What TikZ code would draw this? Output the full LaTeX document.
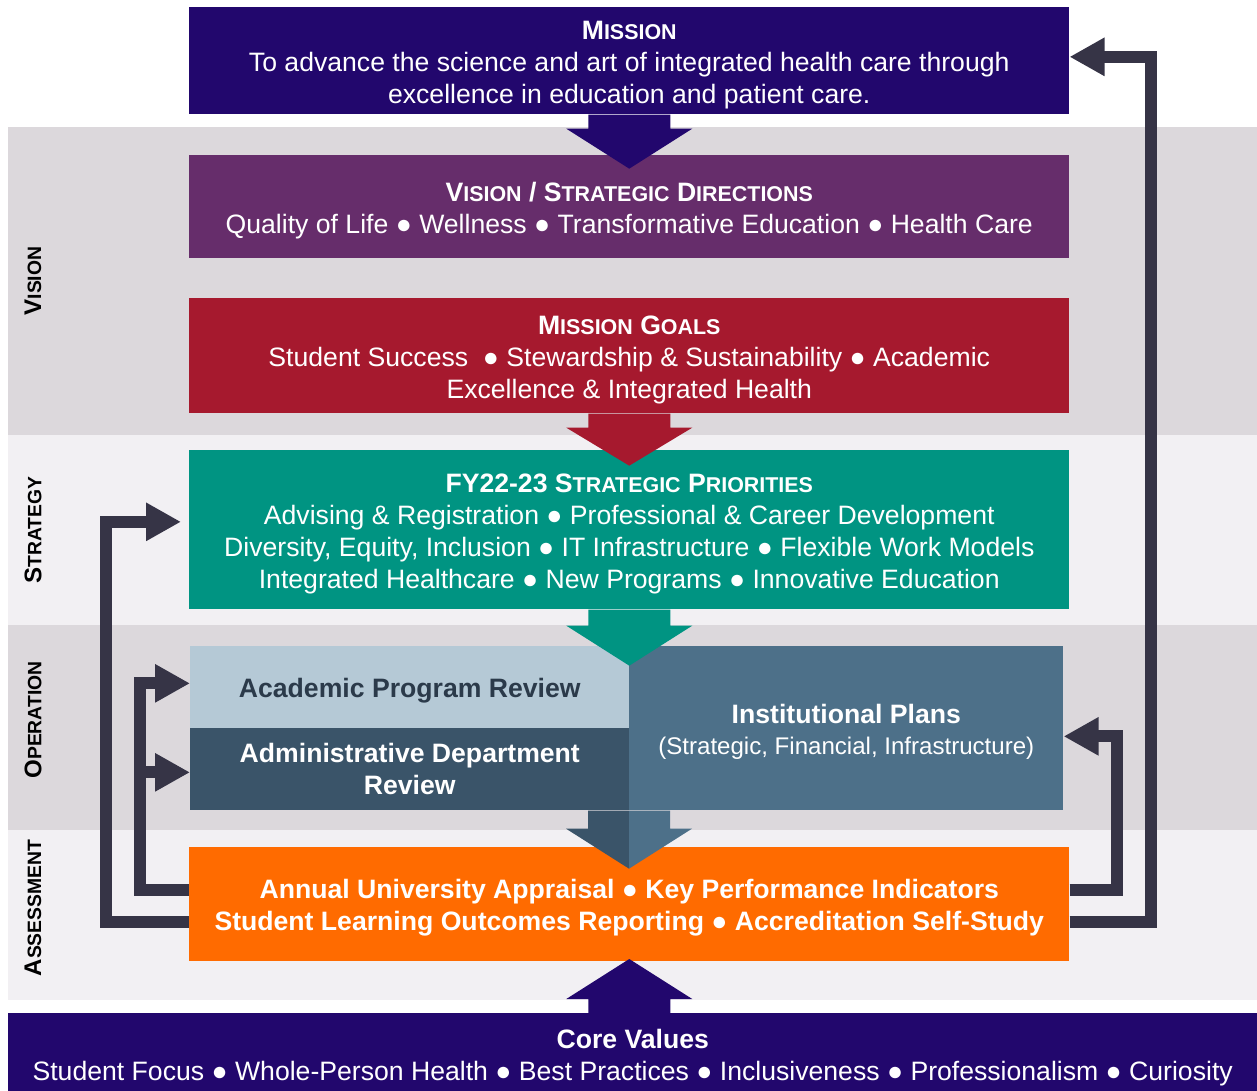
\documentclass[tikz,border=0pt]{standalone}
\usepackage{fontspec}
\setmainfont{Liberation Sans}
\usepackage{xcolor}
\usetikzlibrary{calc,arrows.meta}

\definecolor{cIndigo}{HTML}{22076D}
\definecolor{cPurple}{HTML}{662D6B}
\definecolor{cCrimson}{HTML}{A6192E}
\definecolor{cTeal}{HTML}{009482}
\definecolor{cLightSlate}{HTML}{B5C9D6}
\definecolor{cDarkSlate}{HTML}{3A5469}
\definecolor{cSlate}{HTML}{4D7089}
\definecolor{cOrange}{HTML}{FF6B00}
\definecolor{cLoop}{HTML}{363446}
\definecolor{cBandDark}{HTML}{DCD8DC}
\definecolor{cBandLight}{HTML}{F2F0F3}
\definecolor{cReviewText}{HTML}{2B3A4A}

% fake small caps
\newcommand{\smc}[1]{{\fontsize{12.2}{18.2}\selectfont #1}}
\newcommand{\sidesmc}[1]{{\fontsize{11}{14}\selectfont #1}}
% extra room above the first line
\newcommand{\topgap}{\rule{0pt}{15pt}}

\begin{document}
\begin{tikzpicture}[x=0.02cm, y=-0.02cm,
    box/.style={anchor=north west, inner sep=0pt, align=center, text=white,
      font=\fontsize{15.15}{18.2}\selectfont},
    side/.style={rotate=90, font=\bfseries\fontsize{13.7}{16}\selectfont},
    loop/.style={draw=cLoop, line width=6.8pt,
      -{Triangle[length=19.9pt, width=20.5pt]}}]
    \useasboundingbox (0,0) rectangle (1257,1091);

    % bands
    \fill[cBandDark] (8,127) rectangle (1257,435);
    \fill[cBandLight] (8,435) rectangle (1257,625);
    \fill[cBandDark] (8,625) rectangle (1257,830);
    \fill[cBandLight] (8,830) rectangle (1257,1000);

    \node[side] (lvision) at (33,281) {V\sidesmc{ISION}};
    \node[side] (lstrategy) at (33,530) {S\sidesmc{TRATEGY}};
    \node[side] (loperation) at (33,720) {O\sidesmc{PERATION}};
    \node[side] (lassess) at (33,908) {A\sidesmc{SSESSMENT}};

    % boxes
    \node[box, fill=cIndigo, minimum width=17.6cm, minimum height=2.14cm] (mission) at (189,7)
      {\topgap\textbf{M\smc{ISSION}}\\To advance the science and art of integrated health care through\\excellence in education and patient care.};
    \node[box, fill=cPurple, minimum width=17.6cm, minimum height=2.06cm] (vision) at (189,155)
      {\topgap\textbf{V\smc{ISION} / S\smc{TRATEGIC} D\smc{IRECTIONS}}\\Quality of Life ● Wellness ● Transformative Education ● Health Care};
    \node[box, fill=cCrimson, minimum width=17.6cm, minimum height=2.3cm] (goals) at (189,298)
      {\topgap\textbf{M\smc{ISSION} G\smc{OALS}}\\Student Success\ \ ● Stewardship \& Sustainability ● Academic\\Excellence \& Integrated Health};
    \node[box, fill=cTeal, minimum width=17.6cm, minimum height=3.18cm] (fy) at (189,450)
      {\topgap\textbf{FY22-23 S\smc{TRATEGIC} P\smc{RIORITIES}}\\Advising \& Registration ● Professional \& Career Development\\Diversity, Equity, Inclusion ● IT Infrastructure ● Flexible Work Models\\Integrated Healthcare ● New Programs ● Innovative Education};
    \node[box, fill=cLightSlate, text=cReviewText, minimum width=8.78cm, minimum height=1.64cm] (apr) at (190,646)
      {\topgap\textbf{Academic Program Review}};
    \node[box, fill=cDarkSlate, minimum width=8.78cm, minimum height=1.64cm] (adr) at (190,728)
      {\textbf{Administrative Department}\\\textbf{Review}};
    \node[box, fill=cSlate, minimum width=8.68cm, minimum height=3.28cm] (inst) at (629,646)
      {\topgap\textbf{Institutional Plans}\\[-1pt]{\fontsize{13.7}{16}\selectfont (Strategic, Financial, Infrastructure)}};
    \node[box, fill=cOrange, minimum width=17.6cm, minimum height=2.28cm, font=\bfseries\fontsize{15.15}{18.2}\selectfont] (assess) at (189,847)
      {\topgap Annual University Appraisal ● Key Performance Indicators\\Student Learning Outcomes Reporting ● Accreditation Self-Study};
    \node[box, fill=cIndigo, minimum width=24.98cm, minimum height=1.64cm] (core) at (8,1013)
      {\topgap\textbf{Core Values}\\Student Focus ● Whole-Person Health ● Best Practices ● Inclusiveness ● Professionalism ● Curiosity};

    % block arrows
    \fill[cIndigo] ($(mission.south)+(-41,0)$) -- ++(0,14) -- ++(-22,0) -- ++(63,40)
      -- ++(63,-40) -- ++(-22,0) -- ++(0,-14) -- cycle;
    \fill[cCrimson] ($(goals.south)+(-41,0)$) -- ++(0,14) -- ++(-22,0) -- ++(63,38)
      -- ++(63,-38) -- ++(-22,0) -- ++(0,-14) -- cycle;
    \fill[cTeal] ($(fy.south)+(-41,0)$) -- ++(0,16) -- ++(-22,0) -- ++(63,40)
      -- ++(63,-40) -- ++(-22,0) -- ++(0,-16) -- cycle;
    \fill[cDarkSlate] (inst.south west) -- ++(-41,0) -- ++(0,18) -- ++(-22,0) -- ++(63,40) -- cycle;
    \fill[cSlate] (inst.south west) -- ++(41,0) -- ++(0,18) -- ++(22,0) -- ++(-63,40) -- cycle;
    \fill[cIndigo] ($(assess.south |- core.north)+(-41,0)$) -- ++(0,-14) -- ++(-22,0) -- ++(63,-40)
      -- ++(63,40) -- ++(-22,0) -- ++(0,14) -- cycle;

    % feedback loops
    \draw[loop] ($(assess.east)+(0,18)$) -| ($(mission.east)+(81,-4)$) -- ($(mission.east)+(0,-4)$);
    \draw[loop] ($(assess.east)+(0,-14)$) -| ($(inst.east)+(53,8)$) -- ($(inst.east)+(0,8)$);
    \draw[loop] ($(assess.west)+(0,18)$) -| ($(fy.west)+(-83,-8)$) -- ($(fy.west)+(-8,-8)$);
    \draw[loop] ($(assess.west)+(0,-14)$) -| ($(apr.west)+(-50,-4)$) -- ($(apr.west)+(0,-4)$);
    \draw[loop] ($(apr.west)+(-50,85)$) -- ($(adr.west)+(0,3)$);
\end{tikzpicture}
\end{document}
